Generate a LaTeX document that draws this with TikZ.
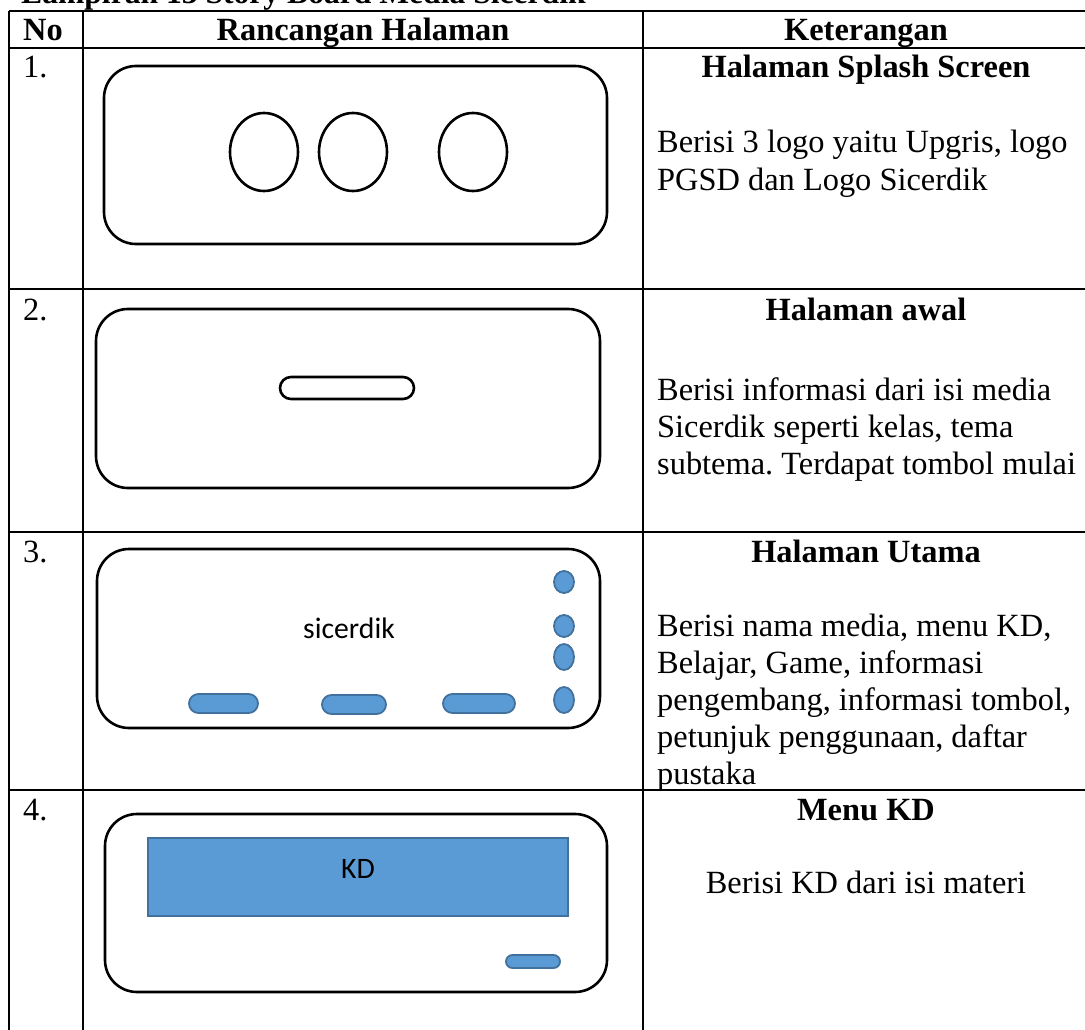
\documentclass[tikz,border=0pt]{standalone}
\usepackage{fontspec}
\setmainfont{Liberation Serif}
\newfontfamily\calibrifont{Carlito}
\frenchspacing
\begin{document}
\begin{tikzpicture}[x=1pt,y=-1pt,
  tline/.style={line width=2.2pt,black},
  frame/.style={line width=2.6pt,black,rounded corners=32pt},
  logo/.style={line width=2.6pt,black},
  btn/.style={fill=btnfill,draw=btndraw,line width=1.8pt},
  txt/.style={inner sep=0pt,font=\fontsize{32.4}{37}\selectfont},
  bold/.style={txt,font=\fontsize{32.4}{37}\selectfont\bfseries},
  cal/.style={inner sep=0pt,font=\fontsize{29.7}{34}\calibrifont}]
\definecolor{btnfill}{HTML}{5B9BD5}
\definecolor{btndraw}{HTML}{41719C}
\useasboundingbox (0,0) rectangle (1085,1030);
\clip (0,0) rectangle (1085,1030);
\fill[white] (0,0) rectangle (1085,1030);
% title (cut off at top)
\node[bold,anchor=base west,font=\fontsize{31.6}{37}\selectfont\bfseries] (title) at (21,4) {Lampiran 13 Story Board Media Sicerdik};
% table lines
\draw[tline] (9,11) -- (1090,11);
\draw[tline] (9,48) -- (1090,48);
\draw[tline] (9,289) -- (1090,289);
\draw[tline] (9,532) -- (1090,532);
\draw[tline] (9,790) -- (1090,790);
\draw[tline] (9,11) -- (9,1035);
\draw[tline] (83,11) -- (83,1035);
\draw[tline] (643,11) -- (643,1035);
% header
\node[bold,anchor=base west] (hno) at (23,41) {No};
\node[bold,anchor=base] (hrh) at (363,41) {Rancangan Halaman};
\node[bold,anchor=base] (hket) at (866,41) {Keterangan};
% row numbers
\node[txt,anchor=base west] (n1) at (23,78) {1.};
\node[txt,anchor=base west] (n2) at (23,320) {2.};
\node[txt,anchor=base west] (n3) at (23,562) {3.};
\node[txt,anchor=base west] (n4) at (23,820) {4.};
% row 1
\draw[frame] (104,66) rectangle (607,244);
\draw[logo] (264,152) ellipse [x radius=34, y radius=39];
\draw[logo] (353,152) ellipse [x radius=34, y radius=39];
\draw[logo] (473,152) ellipse [x radius=34, y radius=39];
\node[bold,anchor=base] (k1) at (866,78) {Halaman Splash Screen};
\node[txt,anchor=base west] (d1a) at (657,153) {Berisi 3 logo yaitu Upgris, logo};
\node[txt,anchor=base west] (d1b) at (657,190) {PGSD dan Logo Sicerdik};
% row 2
\draw[frame] (96,309) rectangle (600,488);
\draw[logo,rounded corners=11pt] (280,377) rectangle (414,399);
\node[bold,anchor=base] (k2) at (866,320) {Halaman awal};
\node[txt,anchor=base west] (d2a) at (657,400) {Berisi informasi dari isi media};
\node[txt,anchor=base west] (d2b) at (657,437) {Sicerdik seperti kelas, tema};
\node[txt,anchor=base west] (d2c) at (657,474) {subtema. Terdapat tombol mulai};
% row 3
\draw[frame] (97,549) rectangle (600,728);
\node[cal,anchor=base] (sic) at (349,638) {sicerdik};
\draw[btn] (564,582) ellipse [x radius=10, y radius=11];
\draw[btn] (564,626) ellipse [x radius=10, y radius=11];
\draw[btn] (564,657) ellipse [x radius=10, y radius=13];
\draw[btn] (564,700) ellipse [x radius=10, y radius=13];
\draw[btn,rounded corners=9.5pt] (189,694) rectangle (258,713);
\draw[btn,rounded corners=9.5pt] (322,695) rectangle (386,714);
\draw[btn,rounded corners=9.5pt] (443,694) rectangle (515,713);
\node[bold,anchor=base] (k3) at (866,562) {Halaman Utama};
\node[txt,anchor=base west] (d3a) at (657,636) {Berisi nama media, menu KD,};
\node[txt,anchor=base west] (d3b) at (657,673) {Belajar, Game, informasi};
\node[txt,anchor=base west] (d3c) at (657,710) {pengembang, informasi tombol,};
\node[txt,anchor=base west] (d3d) at (657,747) {petunjuk penggunaan, daftar};
\node[txt,anchor=base west] (d3e) at (657,784) {pustaka};
% row 4
\draw[frame] (105,814) rectangle (607,992);
\draw[fill=btnfill,draw=btndraw,line width=1.5pt] (148,838) rectangle (568,916);
\node[cal,anchor=base] (kd) at (358,878) {KD};
\draw[btn,rounded corners=6.5pt] (506,955) rectangle (560,968);
\node[bold,anchor=base] (k4) at (866,820) {Menu KD};
\node[txt,anchor=base] (d4) at (866,893) {Berisi KD dari isi materi};
\end{tikzpicture}
\end{document}
